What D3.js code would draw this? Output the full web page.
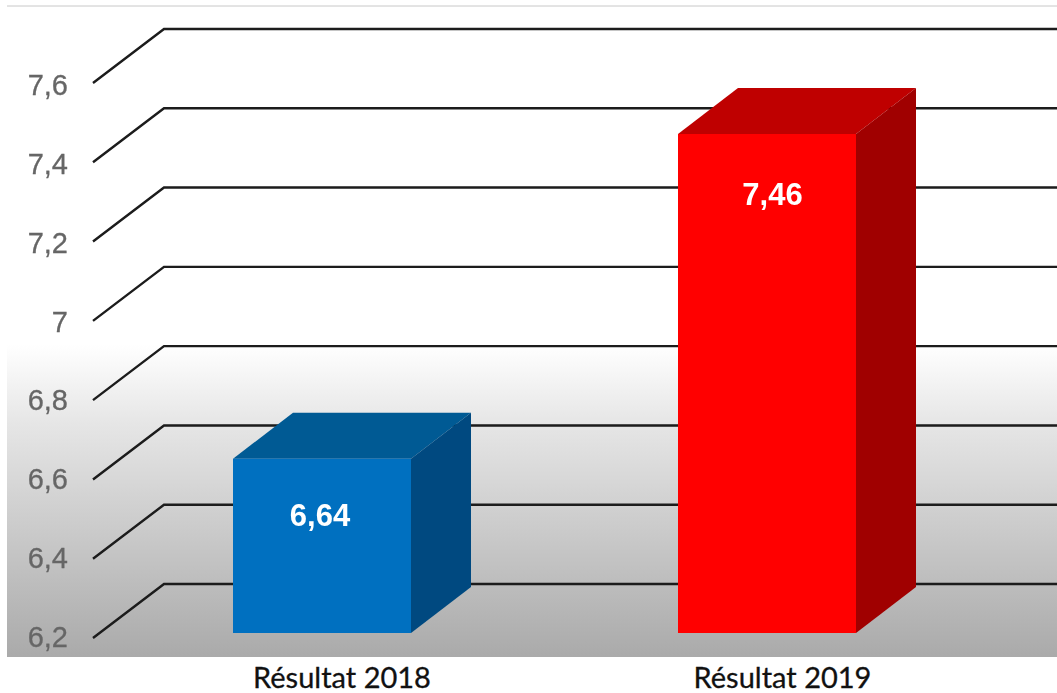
<!DOCTYPE html>
<html><head><meta charset="utf-8">
<script src="https://cdn.jsdelivr.net/npm/d3@7/dist/d3.min.js"></script>
<style>html,body{margin:0;padding:0;background:#fff}svg{display:block}</style>
</head><body><svg id="c" width="1057" height="693"></svg>
<script>
const categories = ["Résultat 2018", "Résultat 2019"];
const values = [6.64, 7.46];
const valueLabels = ["6,64", "7,46"];
const frontColors = ["#0070c0", "#ff0000"];
const topColors = ["#005a94", "#bf0000"];
const sideColors = ["#004a80", "#a00000"];
const tickValues = [6.2, 6.4, 6.6, 6.8, 7, 7.2, 7.4, 7.6];
const tickLabels = ["6,2", "6,4", "6,6", "6,8", "7", "7,2", "7,4", "7,6"];

const svg = d3.select("#c");
const y = d3.scaleLinear().domain([6.2, 7.6]).range([638, 83]);
const yLabel = d3.scaleLinear().domain([6.2, 7.6]).range([647, 95]);
const yBar = d3.scaleLinear().domain([6.2, 7.46]).range([633, 134]);
const wallDx = 71, wallDy = -54;
const barDx = 60, barDy = -46;
const x = d3.scaleBand().domain(categories).range([233, 856]).paddingInner(267 / 445);
const xCat = d3.scalePoint().domain(categories).range([342, 782.5]);
const labelNudgeX = [-2, 5.5], labelNudgeY = [67, 71];
const defs = svg.append("defs");
const g = defs.append("linearGradient").attr("id", "bg").attr("x1", 0).attr("x2", 0).attr("y1", 0).attr("y2", 1);
[[0, "#ffffff"], [0.52, "#ffffff"], [0.64, "#e6e6e6"], [1, "#aaaaaa"]].forEach(s => g.append("stop").attr("offset", s[0]).attr("stop-color", s[1]));
const blur = defs.append("filter").attr("id", "soft");
blur.append("feGaussianBlur").attr("stdDeviation", 0.45);

const root = svg.append("g").attr("filter", "url(#soft)");
root.append("rect").attr("x", 7).attr("y", 6).attr("width", 1050).attr("height", 651).attr("fill", "url(#bg)");
root.append("line").attr("x1", 7).attr("x2", 1057).attr("y1", 6).attr("y2", 6).attr("stroke", "#c8c8c8").attr("stroke-width", 1);

root.selectAll("path.grid").data(tickValues).join("path").attr("class", "grid")
  .attr("d", d => `M93,${y(d)}L${93 + wallDx},${y(d) + wallDy}L1057,${y(d) + wallDy}`)
  .attr("fill", "none").attr("stroke", "#1a1a1a").attr("stroke-width", 2.4);

root.selectAll("text.tick").data(tickValues).join("text").attr("class", "tick")
  .attr("x", 68).attr("y", d => yLabel(d)).attr("text-anchor", "end")
  .attr("font-family", "Liberation Sans").attr("font-size", 29).attr("fill", "#666666")
  .attr("stroke", "#666666").attr("stroke-width", 0.3)
  .text((d, i) => tickLabels[i]);

const bars = root.selectAll("g.bar").data(categories).join("g").attr("class", "bar");
const top_ = i => yBar(values[i]);
const bottom = yBar(6.2);
bars.append("path").attr("fill", (d, i) => topColors[i])
  .attr("d", (d, i) => { const a = x(d), b = a + x.bandwidth(), t = top_(i);
    return `M${a},${t}L${a + barDx},${t + barDy}L${b + barDx},${t + barDy}L${b},${t}Z`; });
bars.append("path").attr("fill", (d, i) => sideColors[i])
  .attr("d", (d, i) => { const b = x(d) + x.bandwidth(), t = top_(i);
    return `M${b},${t}L${b + barDx},${t + barDy}L${b + barDx},${bottom + barDy}L${b},${bottom}Z`; });
bars.append("rect").attr("fill", (d, i) => frontColors[i])
  .attr("x", d => x(d)).attr("width", x.bandwidth())
  .attr("y", (d, i) => top_(i)).attr("height", (d, i) => bottom - top_(i));
bars.append("text").attr("x", (d, i) => x(d) + x.bandwidth() / 2 + labelNudgeX[i]).attr("y", (d, i) => top_(i) + labelNudgeY[i])
  .attr("text-anchor", "middle").attr("font-family", "Liberation Sans").attr("font-weight", "bold")
  .attr("font-size", 31).attr("fill", "#fff").text((d, i) => valueLabels[i]);

svg.selectAll("text.cat").data(categories).join("text").attr("class", "cat")
  .attr("x", d => xCat(d)).attr("y", 688).attr("text-anchor", "middle")
  .attr("font-family", "Lato").attr("font-size", 29).attr("fill", "#111")
  .attr("stroke", "#111").attr("stroke-width", 0.3).text(d => d);
</script></body></html>
